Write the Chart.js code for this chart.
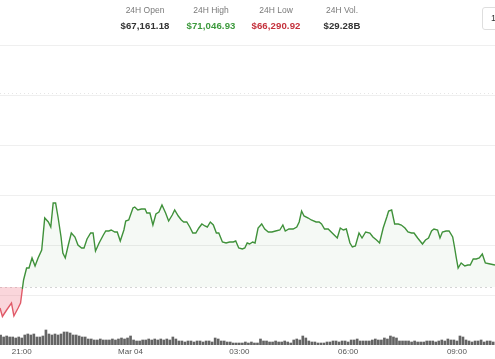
<!DOCTYPE html>
<html>
<head>
<meta charset="utf-8">
<script src="https://cdn.jsdelivr.net/npm/chart.js@4.4.1/dist/chart.umd.min.js"></script>
<style>
  html, body { margin: 0; padding: 0; background: #fff; }
  #wrap { position: relative; width: 495px; height: 359px; overflow: hidden; font-family: "Liberation Sans", Arial, sans-serif; }
  #c { position: absolute; left: 0; top: 0; }
  .stat { position: absolute; top: 5px; width: 80px; text-align: center; }
  .stat .lbl { font-size: 8.5px; color: #7a7a7a; line-height: 11px; }
  .stat .val { font-size: 9.6px; font-weight: bold; color: #333; line-height: 13px; margin-top: 3px; letter-spacing: 0.1px; }
  #btn { position: absolute; left: 482px; top: 7px; width: 30px; height: 23px; border: 1px solid #dedede; border-radius: 3px; box-sizing: border-box; font-size: 9px; color: #333; padding: 5px 0 0 8px; }
</style>
</head>
<body>
<div id="wrap">
  <canvas id="c" width="495" height="359"></canvas>
  <div class="stat" style="left:105px"><div class="lbl">24H Open</div><div class="val">$67,161.18</div></div>
  <div class="stat" style="left:171px"><div class="lbl">24H High</div><div class="val" style="color:#3d9a3d">$71,046.93</div></div>
  <div class="stat" style="left:236px"><div class="lbl">24H Low</div><div class="val" style="color:#c4303b">$66,290.92</div></div>
  <div class="stat" style="left:302px"><div class="lbl">24H Vol.</div><div class="val">$29.28B</div></div>
  <div id="btn">1D</div>
</div>
<script>
// ---- data (minutes relative to 21:00 on Mar 03) ----
const openPrice = 67161.18;
const highPrice = 71046.93;
const priceTimes = [-36,-32,-25,-17,-13,-6,-2,1,3,8,12,17,22,27,33,38,44,48,52,56,60,65,68,72,77,82,88,93,99,103,108,114,118,122,128,135,139,144,148,154,158,163,169,172,177,184,187,192,198,204,207,212,217,222,227,232,238,243,249,253,259,264,268,273,278,283,288,293,298,303,307,312,317,322,326,332,338,344,350,354,359,365,369,373,377,382,386,391,397,402,408,414,420,427,432,436,442,449,455,459,463,467,474,479,487,492,496,501,507,512,517,522,527,532,537,543,547,552,558,563,569,576,581,587,592,598,604,607,612,617,623,628,634,639,645,649,655,659,663,668,673,678,682,688,692,696,702,707,713,716,719,722,727,733,738,742,747,752,757,762,767,775,783];
const prices = [66740,66570,66700,66840,66580,66740,66840,67120,67300,67540,67540,67740,67580,67740,67900,68540,68460,68360,68840,68840,68560,68160,67840,67740,68000,68240,68160,68000,67940,67940,68120,68240,68240,67880,68040,68200,68280,68280,68300,68260,68260,68080,68300,68480,68500,68740,68760,68700,68720,68720,68640,68640,68400,68620,68660,68800,68640,68480,68600,68700,68580,68500,68460,68460,68360,68240,68240,68340,68420,68380,68360,68460,68400,68240,68240,68060,68040,68060,68060,68080,67940,67920,67940,68040,68020,68060,68040,68340,68420,68320,68260,68260,68280,68300,68400,68280,68320,68320,68360,68460,68680,68580,68540,68500,68460,68460,68420,68320,68320,68260,68200,68140,68340,68300,68320,68040,67960,67980,68240,68140,68260,68240,68160,68100,68040,68340,68560,68680,68700,68420,68420,68400,68340,68260,68240,68240,68140,68080,68020,68100,68140,68280,68320,68300,68140,68260,68280,68280,68160,67960,67740,67540,67640,67580,67600,67600,67720,67720,67740,67820,67640,67620,67600];
const volStart = -35, volStep = 5;
const volumes = [200,160,180,160,160,140,160, 140,200,220,200, 220,160,160, 180,300, 220,200,220,200,220,260,260,240, 200,200,180,160, 160,120, 120,100,100,120,100,100,100,120,100,120,140,120,140, 180, 100,80,80,100,100,120,100,120,100,120,100,120,100, 160, 120,80,80,60,80,80,60,80,80,60,80,80,60, 140,120, 80,80,60,60,40,40,40,40,60, 40,60,40,40, 120, 80,80,60,60,80,60,60,80,60, 40,100,120,100, 180, 140,80, 60,60,40,40,40,60,60,80, 80,60,80,80,60, 100,100,120,80,80, 80,80,100,120,100, 100,140,120,180,160, 140,80,80, 80,80,60,80,60,60,60,80,80,80,60,80, 100,80,120,100,100, 80, 180,160, 100,80,60,80,80,100,60,80,80,60];
const tickMinutes = [0, 180, 360, 540, 720];
const tickLabels = ["21:00", "Mar 04", "03:00", "06:00", "09:00"];
const gridPrices = [67000, 68000, 69000, 70000, 71000, 72000];

// ---- build datasets ----
const lineData = priceTimes.map((t, i) => ({ x: t, y: prices[i] }));
const volData = volumes.map((v, i) => ({ x: volStart + i * volStep, y: v }));

const GREEN = '#3f913a', RED = '#e05a68';

const refLines = {
  id: 'refLines',
  beforeDatasetsDraw(chart) {
    const { ctx, chartArea } = chart;
    const ys = chart.scales.y;
    ctx.save();
    ctx.lineWidth = 1;
    ctx.setLineDash([2, 3]);
    ctx.strokeStyle = '#d4d4d4';
    let py = Math.round(ys.getPixelForValue(openPrice)) + 0.5;
    ctx.beginPath(); ctx.moveTo(chartArea.left, py); ctx.lineTo(chartArea.right, py); ctx.stroke();
    ctx.setLineDash([1, 3]);
    ctx.strokeStyle = '#e6e6e6';
    py = Math.round(ys.getPixelForValue(highPrice)) + 0.5;
    ctx.beginPath(); ctx.moveTo(chartArea.left, py); ctx.lineTo(chartArea.right, py); ctx.stroke();
    ctx.restore();
  }
};

new Chart(document.getElementById('c'), {
  data: {
    datasets: [
      {
        type: 'bar',
        data: volData,
        xAxisID: 'x',
        yAxisID: 'yv',
        backgroundColor: '#646464',
        barThickness: 2,
        order: 2
      },
      {
        type: 'line',
        data: lineData,
        xAxisID: 'x',
        yAxisID: 'y',
        borderColor: GREEN,
        borderWidth: 1.4,
        pointRadius: 0,
        tension: 0,
        fill: { target: { value: openPrice }, above: 'rgba(80,150,80,0.06)', below: 'rgba(240,120,135,0.30)' },
        segment: {
          borderColor: c => (c.p0.parsed.y < openPrice && c.p1.parsed.y < openPrice + 100) ? RED : GREEN
        },
        order: 1
      }
    ]
  },
  options: {
    responsive: false,
    animation: false,
    devicePixelRatio: 1,
    layout: { padding: 0 },
    plugins: { legend: { display: false }, tooltip: { enabled: false } },
    scales: {
      x: {
        type: 'linear',
        offset: false,
        min: -36,
        max: 783,
        grid: { display: false, drawTicks: false },
        border: { display: false },
        afterBuildTicks: s => { s.ticks = tickMinutes.map(v => ({ value: v })); },
        afterFit: s => { s.height = 14; },
        ticks: {
          padding: 2,
          maxRotation: 0,
          autoSkip: false,
          color: '#555',
          font: { family: '"Liberation Sans", Arial, sans-serif', size: 8 },
          callback: (v) => { const i = tickMinutes.indexOf(v); return i >= 0 ? tickLabels[i] : ''; }
        }
      },
      y: {
        type: 'linear',
        position: 'left',
        min: 66000,
        max: 72900,
        afterBuildTicks: s => { s.ticks = gridPrices.map(v => ({ value: v })); },
        afterFit: s => { s.width = 0; },
        ticks: { display: false },
        border: { display: false },
        grid: { color: '#efefef', lineWidth: 1, drawTicks: false }
      },
      yv: {
        type: 'linear',
        display: false,
        min: 0,
        max: 6900
      }
    }
  },
  plugins: [refLines]
});
</script>
</body>
</html>
